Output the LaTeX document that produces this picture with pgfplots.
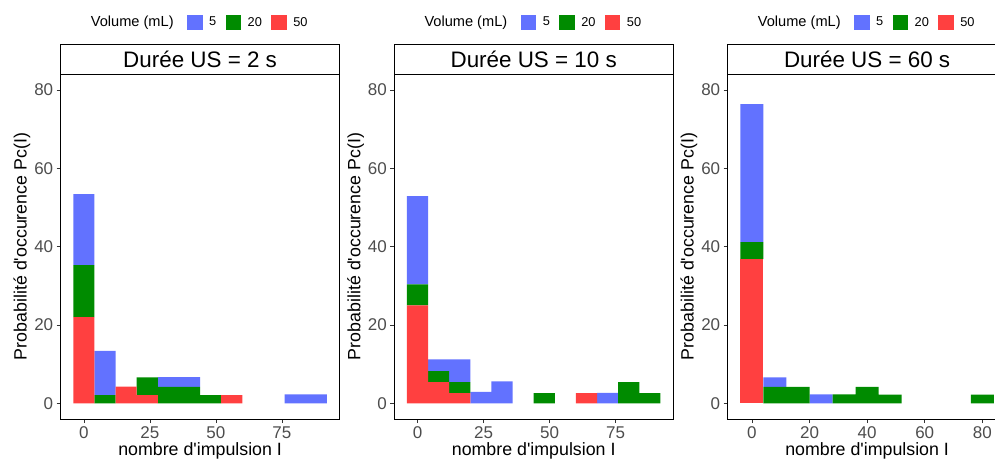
\documentclass[border=0pt]{standalone}
\usepackage{pgfplots}
\pgfplotsset{compat=1.18}
\usepackage{fontspec}
\setmainfont{Liberation Sans}
\definecolor{c5}{RGB}{98,114,255}
\definecolor{c20}{RGB}{0,139,0}
\definecolor{c50}{RGB}{255,64,64}
\definecolor{tickgray}{RGB}{77,77,77}
\pgfplotsset{
  sq/.style={legend image code/.code={\fill[##1] (0pt,-7.65pt) rectangle (15.3pt,7.65pt);}},
  panel/.style={
    scale only axis, width=278.8pt, height=345pt,
    ymin=-4.0, ymax=84.1, ytick={0,20,40,60,80},
    ybar stacked, bar width=8, sq,
    axis line style={black, line width=0.8pt},
    tick pos=left, tick align=outside, major tick length=4pt,
    every tick/.style={black!80, line width=0.8pt},
    /pgf/number format/assume math mode=true,
    ticklabel style={font=\fontsize{17}{17}\selectfont, text=tickgray},
    xlabel={nombre d\textquotesingle impulsion I}, ylabel={Probabilité d\textquotesingle occurence Pc(I)},
    label style={font=\fontsize{17.8}{18}\selectfont},
    xlabel style={at={(axis description cs:0.5,-0.1072)}, anchor=base},
    ylabel style={at={(axis description cs:-0.1388,0.5)}, anchor=center},
    every axis title shift=0pt,
    title style={at={(axis description cs:0.5,1)}, anchor=south, draw=black, line width=0.8pt,
      minimum width=278.8pt, minimum height=29.7pt, inner sep=0pt, outer sep=0pt, yshift=0pt,
      font=\fontsize{22.4}{24}\selectfont},
    clip=false,
    legend columns=3, reverse legend,
    legend style={at={(axis description cs:0.4541,1.1499)}, anchor=west, draw=none, fill=none,
      inner sep=0pt, outer sep=0pt, font=\fontsize{12.8}{13}\selectfont, nodes={inner sep=0pt},
      /tikz/every odd column/.append style={column sep=6.6pt},
      /tikz/every even column/.append style={column sep=9.5pt}},
  }
}
\begin{document}
\begin{tikzpicture}
% Panel 1
\begin{axis}[panel, at={(0pt,0pt)}, anchor=south west,
  xmin=-8.8, xmax=96.8, xtick={0,25,50,75}, title={Durée US = 2 s}]
\addplot[fill=c50, draw=none, sq] coordinates {(0,22.0)(8,0)(16,4.3)(24,2.1)(32,0)(40,0)(48,0)(56,2.1)(64,0)(72,0)(80,0)(88,0)};
\addplot[fill=c20, draw=none, sq] coordinates {(0,13.3)(8,2.1)(16,0)(24,4.5)(32,4.2)(40,4.2)(48,2.1)(56,0)(64,0)(72,0)(80,0)(88,0)};
\addplot[fill=c5, draw=none, sq] coordinates {(0,18.1)(8,11.3)(16,0)(24,0)(32,2.5)(40,2.5)(48,0)(56,0)(64,0)(72,0)(80,2.3)(88,2.3)};
\legend{50,20,5}
\node[anchor=west, inner sep=0pt, font=\fontsize{14.6}{15}\selectfont] at (axis description cs:0.1076,1.1499) {Volume (mL)};
\end{axis}
% Panel 2
\begin{axis}[panel, at={(333.6pt,0pt)}, anchor=south west,
  xmin=-8.8, xmax=96.8, xtick={0,25,50,75}, title={Durée US = 10 s}]
\addplot[fill=c50, draw=none, sq] coordinates {(0,25.0)(8,5.4)(16,2.6)(24,0)(32,0)(40,0)(48,0)(56,0)(64,2.6)(72,0)(80,0)(88,0)};
\addplot[fill=c20, draw=none, sq] coordinates {(0,5.4)(8,2.8)(16,2.8)(24,0)(32,0)(40,0)(48,2.6)(56,0)(64,0)(72,0)(80,5.4)(88,2.6)};
\addplot[fill=c5, draw=none, sq] coordinates {(0,22.5)(8,3.0)(16,5.8)(24,2.9)(32,5.6)(40,0)(48,0)(56,0)(64,0)(72,2.7)(80,0)(88,0)};
\legend{50,20,5}
\node[anchor=west, inner sep=0pt, font=\fontsize{14.6}{15}\selectfont] at (axis description cs:0.1076,1.1499) {Volume (mL)};
\end{axis}
% Panel 3
\begin{axis}[panel, at={(667pt,0pt)}, anchor=south west,
  xmin=-8.4, xmax=88.4, xtick={0,20,40,60,80}, title={Durée US = 60 s}]
\addplot[fill=c50, draw=none, sq] coordinates {(0,36.8)(8,0)(16,0)(24,0)(32,0)(40,0)(48,0)(56,0)(64,0)(72,0)(80,0)};
\addplot[fill=c20, draw=none, sq] coordinates {(0,4.4)(8,4.2)(16,4.2)(24,0)(32,2.3)(40,4.2)(48,2.2)(56,0)(64,0)(72,0)(80,2.2)};
\addplot[fill=c5, draw=none, sq] coordinates {(0,35.2)(8,2.4)(16,0)(24,2.3)(32,0)(40,0)(48,0)(56,0)(64,0)(72,0)(80,0)};
\legend{50,20,5}
\node[anchor=west, inner sep=0pt, font=\fontsize{14.6}{15}\selectfont] at (axis description cs:0.1076,1.1499) {Volume (mL)};
\end{axis}
\pgfresetboundingbox
\useasboundingbox (-60.7pt,-40pt) rectangle (934.3pt,419pt);
\end{tikzpicture}
\end{document}
